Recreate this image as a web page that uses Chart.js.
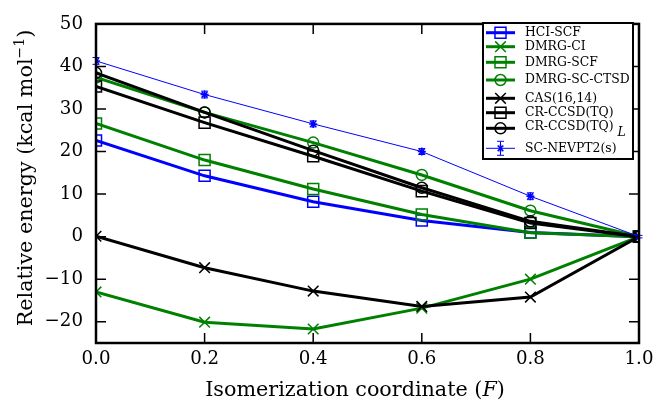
<!DOCTYPE html>
<html>
<head>
<meta charset="utf-8">
<script src="https://cdn.jsdelivr.net/npm/chart.js@4.4.1/dist/chart.umd.min.js"></script>
<style>
html, body { margin: 0; padding: 0; background: #fff; }
</style>
</head>
<body>
<canvas id="energy" width="671" height="403"></canvas>
<script>
const coords = [0.0, 0.2, 0.4, 0.6, 0.8, 1.0];
const xTickLabels = ['0.0', '0.2', '0.4', '0.6', '0.8', '1.0'];
const yTicks = [-20, -10, 0, 10, 20, 30, 40, 50];

const hciScf = [22.6, 14.3, 8.2, 3.8, 1.0, 0];
const dmrgCi = [-13.0, -20.1, -21.7, -16.8, -10.0, 0];
const dmrgScf = [26.6, 18.0, 11.2, 5.2, 0.9, 0];
const dmrgScCtsd = [37.4, 29.2, 22.1, 14.5, 6.1, 0];
const cas1614 = [0.1, -7.3, -12.8, -16.4, -14.2, 0];
const crCcsd = [35.3, 26.8, 18.9, 10.7, 3.2, 0];
const crCcsdL = [38.5, 29.2, 20.2, 11.5, 3.6, 0];
const scNevpt2 = [41.3, 33.4, 26.5, 20.0, 9.5, 0];
const scNevpt2Err = [0.8, 0.8, 0.7, 0.7, 0.8, 0.3];

const SERIF = '"DejaVu Serif", "Liberation Serif", serif';
const BLUE = '#0000ff', GREEN = '#008000', BLACK = '#000000';
const radii = { rect: 7.8, crossRot: 7.5, circle: 5.5, star: 4 };

// pick a font size so the text has the width it has in the picture
const probe = document.createElement('canvas').getContext('2d');
function fitSize(text, width, style) {
  probe.font = (style || '') + ' 100px ' + SERIF;
  return Math.round(100 * width / probe.measureText(text).width * 10) / 10;
}
const tickSize = fitSize('0.2', 29);
const titleSize = fitSize('Isomerization coordinate (F)', 300);
const legendSize = fitSize('DMRG-SC-CTSD', 105);

function series(label, values, color, style, width) {
  return {
    label,
    data: coords.map((c, i) => ({ x: c, y: values[i] })),
    borderColor: color,
    backgroundColor: 'transparent',
    pointBorderColor: color,
    pointBackgroundColor: 'transparent',
    pointStyle: style,
    pointRadius: radii[style],
    pointBorderWidth: 1.5,
    borderWidth: width,
    tension: 0
  };
}

const datasets = [
  series('HCI-SCF', hciScf, BLUE, 'rect', 3),
  series('DMRG-CI', dmrgCi, GREEN, 'crossRot', 3),
  series('DMRG-SCF', dmrgScf, GREEN, 'rect', 3),
  series('DMRG-SC-CTSD', dmrgScCtsd, GREEN, 'circle', 3),
  series('CAS(16,14)', cas1614, BLACK, 'crossRot', 3),
  series('CR-CCSD(TQ)', crCcsd, BLACK, 'rect', 3),
  series('CR-CCSD(TQ)L', crCcsdL, BLACK, 'circle', 3),
  series('SC-NEVPT2(s)', scNevpt2, BLUE, 'star', 1)
];
datasets.forEach((d, i) => { d.order = datasets.length - i; });

function marker(ctx, style, x, y, color) {
  const r = radii[style];
  const h = r * Math.SQRT1_2;
  ctx.strokeStyle = color;
  ctx.lineWidth = 1.5;
  ctx.beginPath();
  if (style === 'rect') {
    ctx.rect(x - h, y - h, 2 * h, 2 * h);
  } else if (style === 'circle') {
    ctx.arc(x, y, r, 0, Math.PI * 2);
  } else if (style === 'crossRot') {
    ctx.moveTo(x - h, y - h); ctx.lineTo(x + h, y + h);
    ctx.moveTo(x - h, y + h); ctx.lineTo(x + h, y - h);
  } else {
    ctx.moveTo(x, y - r); ctx.lineTo(x, y + r);
    ctx.moveTo(x - h, y - h); ctx.lineTo(x + h, y + h);
    ctx.moveTo(x - h, y + h); ctx.lineTo(x + h, y - h);
  }
  ctx.stroke();
}

function richText(ctx, parts, cx, cy, align) {
  let total = 0;
  parts.forEach(p => { ctx.font = p.font; total += ctx.measureText(p.text).width; });
  let x = align === 'left' ? cx : cx - total / 2;
  parts.forEach(p => {
    ctx.font = p.font;
    ctx.fillText(p.text, x, cy + (p.dy || 0));
    x += ctx.measureText(p.text).width;
  });
}

const legendRows = [32.7, 46.7, 62.3, 80, 98.3, 112.7, 128.3, 148.3];

const frame = {
  id: 'frame',
  afterDatasetsDraw(chart) {
    const { ctx, chartArea: a, scales: { x, y } } = chart;
    ctx.save();
    // error bars for SC-NEVPT2(s)
    ctx.strokeStyle = BLUE;
    ctx.lineWidth = 1;
    coords.forEach((c, i) => {
      const px = x.getPixelForValue(c);
      const lo = y.getPixelForValue(scNevpt2[i] - scNevpt2Err[i]);
      const hi = y.getPixelForValue(scNevpt2[i] + scNevpt2Err[i]);
      ctx.beginPath();
      ctx.moveTo(px, lo); ctx.lineTo(px, hi);
      ctx.moveTo(px - 3.5, lo); ctx.lineTo(px + 3.5, lo);
      ctx.moveTo(px - 3.5, hi); ctx.lineTo(px + 3.5, hi);
      ctx.stroke();
    });
    // inward ticks on all four sides
    ctx.strokeStyle = BLACK;
    ctx.lineWidth = 1.5;
    ctx.beginPath();
    x.ticks.forEach(t => {
      const px = x.getPixelForValue(t.value);
      ctx.moveTo(px, a.bottom); ctx.lineTo(px, a.bottom - 10);
      ctx.moveTo(px, a.top); ctx.lineTo(px, a.top + 10);
    });
    y.ticks.forEach(t => {
      const py = y.getPixelForValue(t.value);
      ctx.moveTo(a.left, py); ctx.lineTo(a.left + 10, py);
      ctx.moveTo(a.right, py); ctx.lineTo(a.right - 10, py);
    });
    ctx.stroke();
    ctx.lineWidth = 2.5;
    ctx.strokeRect(a.left, a.top, a.right - a.left, a.bottom - a.top);

    // legend
    ctx.fillStyle = '#fff';
    ctx.fillRect(483, 23, 150, 136);
    ctx.strokeStyle = BLACK;
    ctx.lineWidth = 2;
    ctx.strokeRect(483, 23, 150, 136);
    ctx.textBaseline = 'middle';
    datasets.forEach((d, i) => {
      const ly = legendRows[i];
      ctx.strokeStyle = d.borderColor;
      ctx.lineWidth = d.borderWidth;
      ctx.beginPath();
      ctx.moveTo(486, ly); ctx.lineTo(515, ly);
      ctx.stroke();
      marker(ctx, d.pointStyle, 500.5, ly, d.borderColor);
      if (d.pointStyle === 'star') {
        ctx.lineWidth = 1;
        ctx.beginPath();
        ctx.moveTo(500.5, ly - 7); ctx.lineTo(500.5, ly + 7);
        ctx.moveTo(497, ly - 7); ctx.lineTo(504, ly - 7);
        ctx.moveTo(497, ly + 7); ctx.lineTo(504, ly + 7);
        ctx.stroke();
      }
      ctx.fillStyle = BLACK;
      ctx.textAlign = 'left';
      if (d.label === 'CR-CCSD(TQ)L') {
        richText(ctx, [
          { text: 'CR-CCSD(TQ)', font: legendSize + 'px ' + SERIF, dy: -2 },
          { text: ' L', font: 'italic ' + legendSize + 'px ' + SERIF, dy: 4 }
        ], 525, ly, 'left');
      } else {
        ctx.font = legendSize + 'px ' + SERIF;
        ctx.fillText(d.label, 525, ly);
      }
    });
    ctx.restore();
  },
  afterDraw(chart) {
    const { ctx } = chart;
    ctx.save();
    ctx.fillStyle = BLACK;
    ctx.textBaseline = 'alphabetic';
    ctx.textAlign = 'left';
    const f = titleSize + 'px ' + SERIF;
    richText(ctx, [
      { text: 'Isomerization coordinate (', font: f },
      { text: 'F', font: 'italic ' + f },
      { text: ')', font: f }
    ], 355, 396);
    ctx.translate(32, 178);
    ctx.rotate(-Math.PI / 2);
    richText(ctx, [
      { text: 'Relative energy (kcal mol', font: f },
      { text: '\u22121', font: Math.round(titleSize * 0.7) + 'px ' + SERIF, dy: -8 },
      { text: ')', font: f }
    ], 0, 0);
    ctx.restore();
  }
};

new Chart(document.getElementById('energy'), {
  type: 'line',
  data: { datasets },
  options: {
    responsive: false,
    animation: false,
    devicePixelRatio: 1,
    layout: { padding: { top: 16, right: 32, left: 0, bottom: 0 } },
    plugins: { legend: { display: false }, tooltip: { enabled: false } },
    scales: {
      x: {
        type: 'linear',
        min: 0,
        max: 1,
        afterBuildTicks: s => { s.ticks = coords.map(v => ({ value: v })); },
        afterFit: s => { s.height = 60; },
        grid: { display: false, drawTicks: false },
        border: { display: false },
        ticks: {
          padding: 5,
          color: BLACK,
          font: { family: SERIF, size: tickSize },
          callback: (v) => xTickLabels[coords.indexOf(v)] ?? ''
        }
      },
      y: {
        type: 'linear',
        min: -25,
        max: 50,
        afterBuildTicks: s => { s.ticks = yTicks.map(v => ({ value: v })); },
        afterFit: s => { s.width = 96; },
        grid: { display: false, drawTicks: false },
        border: { display: false },
        ticks: {
          padding: 13,
          color: BLACK,
          font: { family: SERIF, size: tickSize },
          callback: (v) => (v < 0 ? '\u2212' + Math.abs(v) : String(v))
        }
      }
    }
  },
  plugins: [frame]
});
</script>
</body>
</html>
